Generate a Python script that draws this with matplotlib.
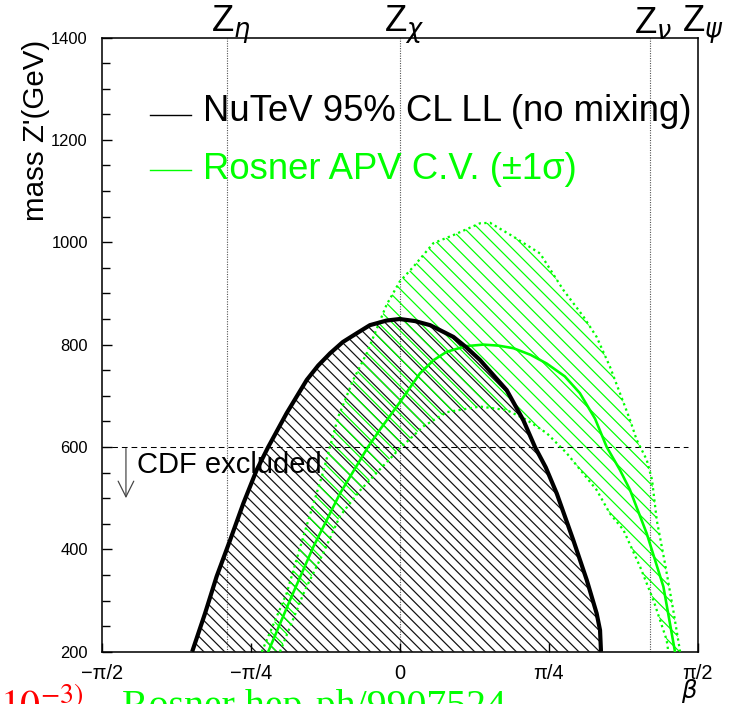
import numpy as np
import matplotlib
matplotlib.use("Agg")
import matplotlib.pyplot as plt

# ---------------- data ----------------
# NuTeV 95% CL lower limit (LL, no mixing): beta [rad], mass [GeV]
nutev_beta = [-1.094, -1.026, -0.965, -0.894, -0.824, -0.754, -0.693, -0.596, -0.490,
              -0.430, -0.367, -0.300, -0.227, -0.157, -0.069, 0.0, 0.080, 0.160, 0.283,
              0.350, 0.423, 0.490, 0.564, 0.652, 0.713, 0.770, 0.828, 0.915, 0.986,
              1.038, 1.056, 1.061]
nutev_mass = [200, 275, 347, 418, 490, 555, 600, 666, 731,
              759, 783, 805, 822, 838, 847, 850, 846, 838, 815,
              795, 770, 742, 711, 652, 600, 560, 509, 418, 340,
              275, 242, 200]

# Rosner APV central value
apv_beta = [-0.693, -0.578, -0.455, -0.315, -0.167, -0.104, 0.0, 0.107, 0.180, 0.248,
            0.350, 0.441, 0.520, 0.599, 0.690, 0.775, 0.870, 0.950, 1.030, 1.091,
            1.161, 1.214, 1.302, 1.390, 1.451]
apv_mass = [200, 301, 405, 509, 600, 634, 687, 744, 770, 786,
            797, 800, 798, 793, 780, 763, 738, 705, 655, 600,
            555, 516, 431, 327, 200]

# Rosner APV +1 sigma (upper edge of band)
apv_up_beta = [-0.727, -0.596, -0.508, -0.411, -0.324, -0.245, -0.174, -0.069, 0.0, 0.072,
               0.177, 0.283, 0.423, 0.476, 0.599, 0.740, 0.862, 0.968, 1.038, 1.108,
               1.214, 1.249, 1.302, 1.330, 1.355, 1.398, 1.442, 1.478]
apv_up_mass = [200, 314, 425, 542, 659, 731, 783, 878, 923, 952,
               998, 1014, 1037, 1038, 1011, 978, 907, 855, 815, 757,
               653, 614, 575, 536, 457, 373, 281, 200]

# Rosner APV -1 sigma (lower edge of band)
apv_lo_beta = [-0.631, -0.50, -0.40, -0.315, -0.209, -0.10, 0.0, 0.124, 0.248, 0.423,
               0.564, 0.669, 0.775, 0.880, 1.038, 1.108, 1.179, 1.267, 1.337, 1.407, 1.416]
apv_lo_mass = [200, 320, 395, 465, 515, 558, 597, 640, 668, 679,
               672, 653, 627, 588, 516, 470, 438, 366, 301, 223, 200]

# E6 model angles
model_names = [r"Z$_{\eta}$", r"Z$_{\chi}$", r"Z$_{\nu}$", r"Z$_{\psi}$"]
model_beta = [-0.912, 0.0, 1.318, 1.571]

cdf_limit = 600
cdf_arrow_beta = -1.443
cdf_arrow_end = 500

xtick_vals = [-np.pi / 2, -np.pi / 4, 0, np.pi / 4, np.pi / 2]
xtick_labels = ["\u2212\u03c0/2", "\u2212\u03c0/4", "0", "\u03c0/4", "\u03c0/2"]
ytick_vals = [200, 400, 600, 800, 1000, 1200, 1400]

# ---------------- style ----------------
plt.rcParams["font.family"] = ["Liberation Sans", "DejaVu Sans"]
plt.rcParams["hatch.linewidth"] = 0.7
GREEN = "#00ff00"

DPI = 125
fig = plt.figure(figsize=(730 / DPI, 704 / DPI), dpi=DPI)
ax = fig.add_axes([0.13932, 0.07429, 0.81644, 0.87244])
ax.set_xlim(-np.pi / 2, np.pi / 2)
ax.set_ylim(200, 1400)

# hatched regions
ax.fill_between(nutev_beta, 200, nutev_mass, facecolor="none", edgecolor="#111111",
                hatch="\\" * 4, linewidth=0, zorder=1)
band_x = np.concatenate([apv_up_beta, apv_lo_beta[::-1]])
band_y = np.concatenate([apv_up_mass, apv_lo_mass[::-1]])
ax.fill(band_x, band_y, facecolor="none", edgecolor=GREEN, hatch="\\" * 3,
        linewidth=0, zorder=2)

# model vertical lines
for b in model_beta[:-1]:
    ax.axvline(b, color="#555555", lw=0.65, ls=(0, (1.0, 1.2)), zorder=0.5)

# CDF limit
ax.plot([-np.pi / 2, 1.52], [cdf_limit, cdf_limit], color="black", lw=0.6,
        ls=(0, (5.5, 3.8)), zorder=3)
ax.annotate("", xy=(cdf_arrow_beta, cdf_arrow_end), xytext=(cdf_arrow_beta, cdf_limit - 3),
            arrowprops=dict(arrowstyle="->,head_length=0.9,head_width=0.45",
                            color="#444444", lw=0.7, shrinkA=0, shrinkB=0), zorder=3)
ax.text(-1.385, 549, "CDF excluded", fontsize=16.8, color="black",
        ha="left", va="baseline", zorder=4)

# curves
ax.plot(apv_up_beta, apv_up_mass, color=GREEN, lw=1.3, ls=(0, (1.0, 1.5)), zorder=4)
ax.plot(apv_lo_beta, apv_lo_mass, color=GREEN, lw=1.3, ls=(0, (1.0, 1.5)), zorder=4)
ax.plot(apv_beta, apv_mass, color=GREEN, lw=1.5, zorder=5)
ax.plot(nutev_beta, nutev_mass, color="black", lw=2.4, zorder=6,
        solid_capstyle="butt", solid_joinstyle="round")

# legend (manual, ROOT-like)
ax.plot([0.081, 0.150], [0.874, 0.874], transform=ax.transAxes, color="black", lw=0.8)
ax.plot([0.081, 0.150], [0.784, 0.784], transform=ax.transAxes, color=GREEN, lw=0.8)
ax.text(0.170, 0.8648, "NuTeV 95% CL LL (no mixing)", transform=ax.transAxes,
        fontsize=21, ha="left", va="baseline", color="black")
ax.text(0.170, 0.7700, "Rosner APV C.V. (\u00b11\u03c3)", transform=ax.transAxes,
        fontsize=21, ha="left", va="baseline", color=GREEN)

# axes / ticks
for s in ax.spines.values():
    s.set_linewidth(0.9)
    s.set_color("black")
ax.set_xticks(xtick_vals)
ax.set_xticklabels(xtick_labels)
ax.set_yticks(ytick_vals)
ax.set_yticks(np.arange(200, 1401, 50), minor=True)
ax.tick_params(axis="y", which="major", direction="in", length=5.8, width=0.8,
               labelsize=9.5, pad=8)
ax.tick_params(axis="y", which="minor", direction="in", length=4.6, width=0.8)
ax.tick_params(axis="x", which="major", direction="in", length=5.2, width=0.8,
               labelsize=11.5, pad=7)

fig.text(36 / 730, 1 - 40 / 704, "mass Z'(GeV)", rotation=90, fontsize=17,
         ha="center", va="top")
fig.text(689 / 730, 1 - 698 / 704, r"$\beta$", fontsize=14, ha="center", va="baseline")

# model labels on top
for name, b in zip(model_names, model_beta):
    ax.annotate(name, xy=(b, 1 - 32.8 / 704), xycoords=("data", "figure fraction"),
                xytext=(-16, 0), textcoords="offset pixels", fontsize=21,
                ha="left", va="baseline", annotation_clip=False)

# cut-off text at the bottom (as in the original slide)
fig.text(84 / 730, 1 - 717 / 704, r"$10^{-3)}$", fontsize=23, color="red",
         ha="right", va="baseline", math_fontfamily="stix")
fig.text(122 / 730, 1 - 717 / 704, "Rosner hep-ph/9907524", fontsize=23,
         color=GREEN, ha="left", va="baseline", family="Liberation Serif")

fig.savefig("out.png", dpi=DPI)
